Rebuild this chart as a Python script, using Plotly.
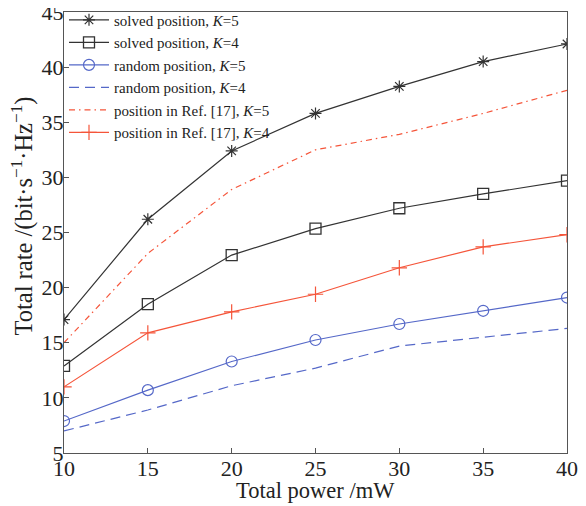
import plotly.graph_objects as go

power = [10, 15, 20, 25, 30, 35, 40]
solved_k5 = [17.1, 26.2, 32.4, 35.8, 38.25, 40.5, 42.1]
solved_k4 = [12.9, 18.5, 22.95, 25.35, 27.2, 28.5, 29.7]
random_k5 = [7.9, 10.7, 13.3, 15.25, 16.7, 17.9, 19.1]
random_k4 = [7.0, 8.9, 11.1, 12.7, 14.7, 15.5, 16.3]
ref_k5 = [15.0, 23.1, 28.9, 32.5, 33.9, 35.8, 37.9]
ref_k4 = [11.0, 15.9, 17.8, 19.4, 21.8, 23.7, 24.8]

x_ticks = [10, 15, 20, 25, 30, 35, 40]
y_ticks = [5, 10, 15, 20, 25, 30, 35, 40, 45]

BLACK = "#333333"
BLUE = "#5568c8"
RED = "#f5553a"
FONT = "Liberation Serif"

fig = go.Figure()
fig.add_trace(go.Scatter(x=power, y=solved_k5, mode="lines+markers",
                         name="solved position, <i>K</i>=5",
                         line=dict(color=BLACK, width=1.2),
                         marker=dict(symbol="asterisk-open", size=10, color=BLACK, line=dict(width=1.2, color=BLACK))))
fig.add_trace(go.Scatter(x=power, y=solved_k4, mode="lines+markers",
                         name="solved position, <i>K</i>=4",
                         line=dict(color=BLACK, width=1.2),
                         marker=dict(symbol="square-open", size=11, color=BLACK, line=dict(width=1.3, color=BLACK))))
fig.add_trace(go.Scatter(x=power, y=random_k5, mode="lines+markers",
                         name="random position, <i>K</i>=5",
                         line=dict(color=BLUE, width=1.2),
                         marker=dict(symbol="circle-open", size=11, color=BLUE, line=dict(width=1.2, color=BLUE))))
fig.add_trace(go.Scatter(x=power, y=random_k4, mode="lines",
                         name="random position, <i>K</i>=4",
                         line=dict(color=BLUE, width=1.2, dash="10px,6px")))
fig.add_trace(go.Scatter(x=power, y=ref_k5, mode="lines",
                         name="position in Ref. [17], <i>K</i>=5",
                         line=dict(color=RED, width=1.2, dash="6px,4px,1.5px,4px")))
fig.add_trace(go.Scatter(x=power, y=ref_k4, mode="lines+markers",
                         name="position in Ref. [17], <i>K</i>=4",
                         line=dict(color=RED, width=1.2),
                         marker=dict(symbol="cross-thin-open", size=11, color=RED, line=dict(width=1.2, color=RED))))

axis_common = dict(showgrid=False, zeroline=False, showline=True, linecolor="#555555", linewidth=1.2,
                   mirror=True, ticks="inside", ticklen=5, tickcolor="#555555", automargin=False,
                   ticklabelstandoff=-5, ticklabeloverflow="allow",
                   tickfont=dict(family=FONT, size=22, color="#222222"))

fig.update_layout(
    width=578, height=498,
    margin=dict(l=56, r=19, t=4, b=53, autoexpand=False),
    paper_bgcolor="white", plot_bgcolor="white",
    font=dict(family=FONT, color="#222222"),
    showlegend=True,
    legend=dict(x=0.0, y=1.019, xanchor="left", yanchor="top",
                bgcolor="rgba(0,0,0,0)",
                borderwidth=0, font=dict(family=FONT, size=15, color="#222222"),
                tracegroupgap=0, itemwidth=40),
    xaxis=dict(range=[10, 40], tickvals=x_ticks, **axis_common),
    yaxis=dict(range=[5, 45], tickvals=y_ticks, **axis_common),
    annotations=[
        dict(text="Total power /mW", xref="paper", yref="paper", x=0.5, y=0,
             xanchor="center", yanchor="middle", yshift=-37, showarrow=False,
             font=dict(family=FONT, size=22.5, color="#222222")),
        dict(text="Total rate /(bit·s<sup>−1</sup>·Hz<sup>−1</sup>)", xref="paper", yref="paper",
             x=0, y=0.5, xanchor="center", yanchor="middle", xshift=-42, yshift=16,
             textangle=-90, showarrow=False,
             font=dict(family=FONT, size=24.5, color="#222222")),
    ],
)

fig.write_html("out.html")
